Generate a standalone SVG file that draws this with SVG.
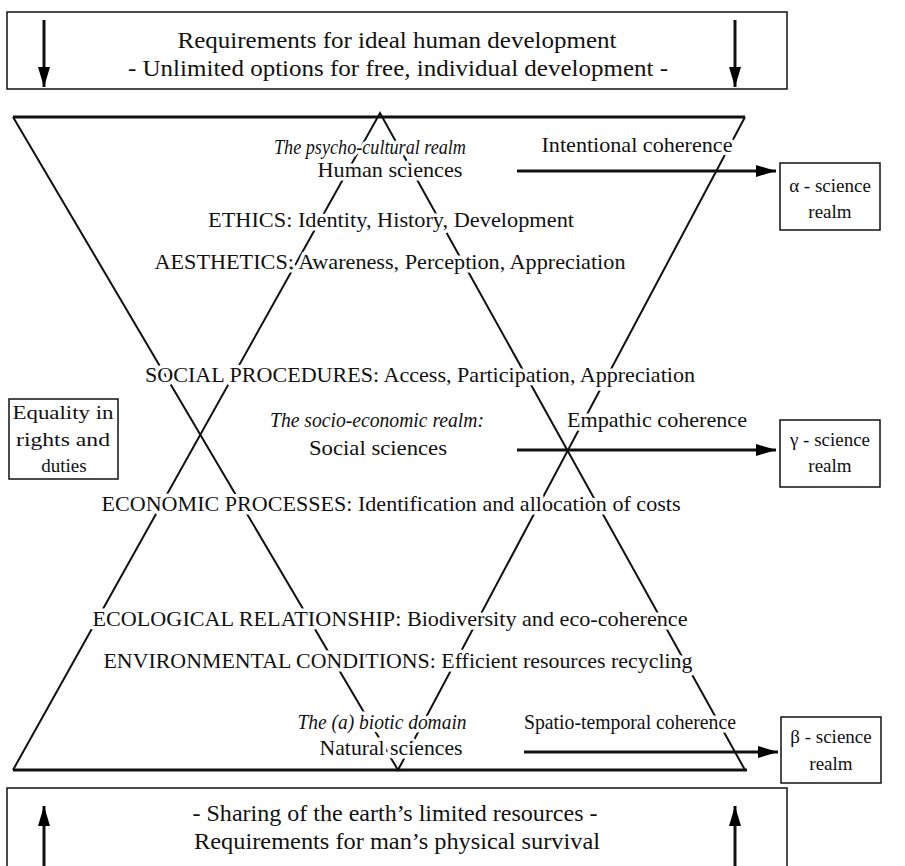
<svg xmlns="http://www.w3.org/2000/svg" width="905" height="866" viewBox="0 0 905 866">
<defs>
<marker id="ahl" viewBox="0 0 20 12" refX="20" refY="6" markerWidth="20" markerHeight="12" markerUnits="userSpaceOnUse" orient="auto"><path d="M0,0 L20,6 L0,12 z" fill="#000"/></marker>
<style>
text{font-family:"Liberation Serif","Times New Roman","DejaVu Serif",serif;font-size:21px;fill:#111;text-anchor:middle}
.big{font-size:23px}
.sm{font-size:19px}
.h{stroke:#fff;stroke-width:7px;paint-order:stroke;stroke-linejoin:round}
.i{font-style:italic}
.box{fill:#fff;stroke:#111;stroke-width:1.5}
.ln{stroke:#111;stroke-width:2;fill:none}
.arr{stroke:#111;stroke-width:3;fill:none}
</style>
</defs>
<rect width="905" height="866" fill="#fff"/>
<g id="top-box">
<rect class="box" x="7" y="12" width="780" height="77"/>
<text class="big" x="397" y="48" textLength="439" lengthAdjust="spacingAndGlyphs">Requirements for ideal human development</text>
<text class="big" x="398" y="76" textLength="540" lengthAdjust="spacingAndGlyphs">- Unlimited options for free, individual development -</text>
<line class="arr" x1="44" y1="20" x2="44" y2="87" marker-end="url(#ahl)"/>
<line class="arr" x1="735" y1="20" x2="735" y2="87" marker-end="url(#ahl)"/>
</g>
<g id="bottom-box">
<rect class="box" x="7" y="788" width="780" height="90"/>
<text class="big" x="395" y="821" textLength="405" lengthAdjust="spacingAndGlyphs">- Sharing of the earth’s limited resources -</text>
<text class="big" x="397" y="849" textLength="406" lengthAdjust="spacingAndGlyphs">Requirements for man’s physical survival</text>
<line class="arr" x1="44" y1="866" x2="44" y2="806" marker-end="url(#ahl)"/>
<line class="arr" x1="735" y1="866" x2="735" y2="806" marker-end="url(#ahl)"/>
</g>
<g id="triangles">
<polyline class="ln" points="13,117 398,770 745,117"/>
<polyline class="ln" points="13,770 380,113 745,770"/>
<line x1="13" y1="117" x2="745" y2="117" stroke="#111" stroke-width="3"/>
<line x1="13" y1="770" x2="747" y2="770" stroke="#111" stroke-width="3"/>
</g>
<g id="labels">
<text class="h i" x="370" y="154" textLength="192" lengthAdjust="spacingAndGlyphs">The psycho-cultural realm</text>
<text class="h" x="390" y="177" textLength="145" lengthAdjust="spacingAndGlyphs">Human sciences</text>
<text class="h" x="391" y="227" textLength="366" lengthAdjust="spacingAndGlyphs">ETHICS: Identity, History, Development</text>
<text class="h" x="390" y="269" textLength="471" lengthAdjust="spacingAndGlyphs">AESTHETICS: Awareness, Perception, Appreciation</text>
<text class="h" x="420" y="382" textLength="550" lengthAdjust="spacingAndGlyphs">SOCIAL PROCEDURES: Access, Participation, Appreciation</text>
<text class="h i" x="377" y="427" textLength="214" lengthAdjust="spacingAndGlyphs">The socio-economic realm:</text>
<text class="h" x="378" y="455" textLength="138" lengthAdjust="spacingAndGlyphs">Social sciences</text>
<text class="h" x="391" y="511" textLength="579" lengthAdjust="spacingAndGlyphs">ECONOMIC PROCESSES: Identification and allocation of costs</text>
<text class="h" x="390" y="626" textLength="595" lengthAdjust="spacingAndGlyphs">ECOLOGICAL RELATIONSHIP: Biodiversity and eco-coherence</text>
<text class="h" x="398" y="668" textLength="589" lengthAdjust="spacingAndGlyphs">ENVIRONMENTAL CONDITIONS: Efficient resources recycling</text>
<text class="h i" x="382" y="729" textLength="169" lengthAdjust="spacingAndGlyphs">The (a) biotic domain</text>
<text class="h" x="391" y="755" textLength="143" lengthAdjust="spacingAndGlyphs">Natural sciences</text>
<text class="h" x="637" y="152" textLength="191" lengthAdjust="spacingAndGlyphs">Intentional coherence</text>
<text class="h" x="657" y="427" textLength="180" lengthAdjust="spacingAndGlyphs">Empathic coherence</text>
<text class="h" x="630" y="729" textLength="212" lengthAdjust="spacingAndGlyphs">Spatio-temporal coherence</text>
</g>
<g id="connectors">
<line class="arr" x1="517" y1="171" x2="776" y2="171" marker-end="url(#ahl)"/>
<line class="arr" x1="517" y1="450" x2="776" y2="450" marker-end="url(#ahl)"/>
<line class="arr" x1="524" y1="752" x2="778" y2="752" marker-end="url(#ahl)"/>
</g>
<g id="alpha-box">
<rect class="box" x="780" y="163" width="100" height="67"/>
<text class="sm" x="830" y="192">α - science</text>
<text class="sm" x="830" y="218">realm</text>
</g>
<g id="gamma-box">
<rect class="box" x="780" y="420" width="100" height="67"/>
<text class="sm" x="830" y="446">γ - science</text>
<text class="sm" x="830" y="472">realm</text>
</g>
<g id="beta-box">
<rect class="box" x="781" y="717" width="100" height="66"/>
<text class="sm" x="831" y="743">β - science</text>
<text class="sm" x="831" y="770">realm</text>
</g>
<g id="equality-box">
<rect class="box" x="9" y="399" width="109" height="80"/>
<text class="sm" x="63" y="419" textLength="101" lengthAdjust="spacingAndGlyphs">Equality in</text>
<text class="sm" x="63" y="446" textLength="94" lengthAdjust="spacingAndGlyphs">rights and</text>
<text class="sm" x="64" y="472">duties</text>
</g>
</svg>
